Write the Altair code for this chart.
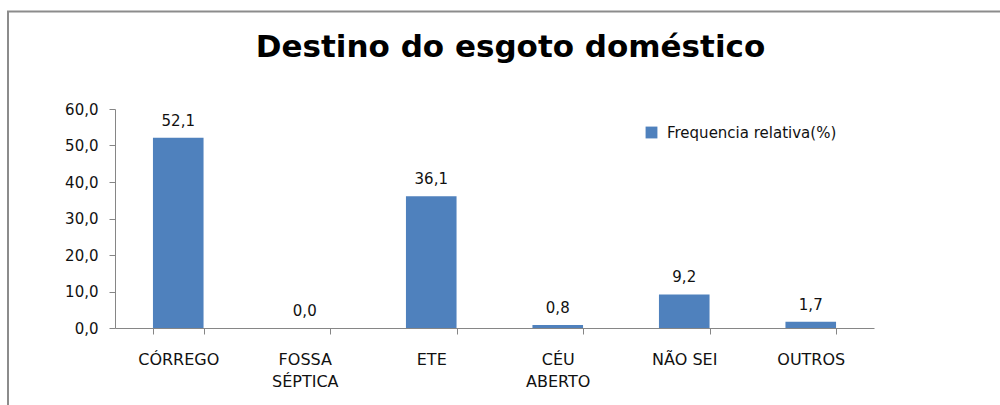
import altair as alt
import pandas as pd

categories = ["CÓRREGO", "FOSSA\nSÉPTICA", "ETE", "CÉU\nABERTO", "NÃO SEI", "OUTROS"]
values = [52.1, 0.0, 36.1, 0.8, 9.2, 1.7]
series_name = "Frequencia relativa(%)"
chart_title = "Destino do esgoto doméstico"
y_ticks = [0, 10, 20, 30, 40, 50, 60]

df = pd.DataFrame({
    "cat": categories,
    "val": values,
    "serie": [series_name] * len(categories),
})
df["label"] = [f"{v:.1f}".replace(".", ",") for v in values]

BLUE = "#4F81BD"
AXIS_GRAY = "#868686"
FONT = "DejaVu Sans"

x_enc = alt.X(
    "cat:N",
    sort=categories,
    title=None,
    scale=alt.Scale(paddingInner=0.6, paddingOuter=0.3),
    axis=alt.Axis(
        labelExpr="split(datum.label, '\\n')",
        labelAngle=0,
        labelFont=FONT,
        labelFontSize=16,
        labelColor="#111111",
        labelPadding=17,
        labelLineHeight=22,
        labelOverlap=False,
        tickBand="extent",
        tickSize=6,
        tickColor=AXIS_GRAY,
        domainColor=AXIS_GRAY,
        domainWidth=1,
        grid=False,
    ),
)

y_enc = alt.Y(
    "val:Q",
    title=None,
    scale=alt.Scale(domain=[0, 60], nice=False),
    axis=alt.Axis(
        values=y_ticks,
        labelExpr="replace(format(datum.value, '.1f'), '.', ',')",
        labelFont=FONT,
        labelFontSize=15,
        labelColor="#111111",
        labelPadding=11,
        labelOverlap=False,
        labelFlush=False,
        tickSize=6,
        tickColor=AXIS_GRAY,
        domainColor=AXIS_GRAY,
        grid=False,
    ),
)

base = alt.Chart(df).encode(x=x_enc, y=y_enc)

bars = base.mark_bar().encode(
    color=alt.Color(
        "serie:N",
        scale=alt.Scale(range=[BLUE]),
        legend=alt.Legend(
            title=None,
            orient="none",
            legendX=529,
            legendY=16,
            symbolType="square",
            symbolSize=140,
            symbolStrokeWidth=0,
            labelFont=FONT,
            labelFontSize=15,
            labelColor="#111111",
            labelOffset=8,
            labelLimit=400,
        ),
    ),
)

labels = base.mark_text(
    baseline="alphabetic", dy=-12, font=FONT, fontSize=15, color="#111111"
).encode(text=alt.Text("label:N"))

title_df = pd.DataFrame({"t": [chart_title]})
title_mark = alt.Chart(title_df).mark_text(
    font="DejaVu Sans", fontSize=31, fontWeight="bold", color="#000000",
    align="center", baseline="alphabetic",
).encode(
    x=alt.value(395.5), y=alt.value(-52), text="t:N"
)

left_border = alt.Chart(title_df).mark_rule(color="#8c8c8c", strokeWidth=2).encode(
    x=alt.value(-107), y=alt.value(-98), y2=alt.value(300)
)
top_border = alt.Chart(title_df).mark_rule(color="#8c8c8c", strokeWidth=2).encode(
    y=alt.value(-97.5), x=alt.value(-108), x2=alt.value(890)
)

chart = alt.layer(bars, labels, title_mark, left_border, top_border).properties(
    width=759,
    height=219,
    background="white",
    autosize=alt.AutoSizeParams(type="none"),
    padding={"left": 115, "top": 109, "right": 126, "bottom": 77},
).configure_view(stroke=None, strokeWidth=0)

chart.save("out.html", embed_options={"renderer": "svg", "actions": False})
